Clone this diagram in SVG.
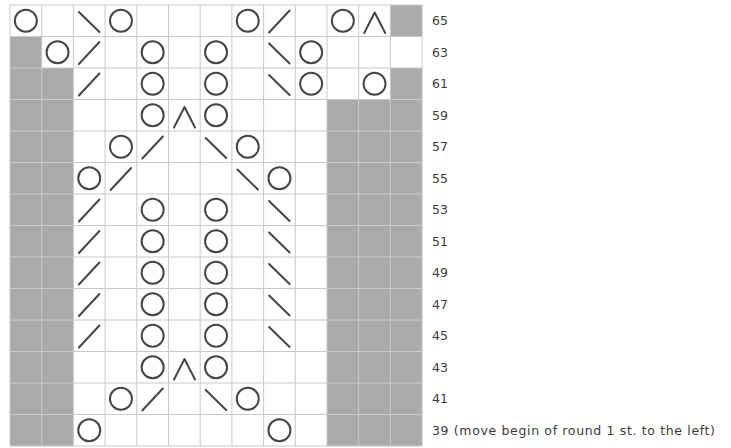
<svg xmlns="http://www.w3.org/2000/svg" xmlns:xlink="http://www.w3.org/1999/xlink" width="731" height="448" viewBox="0 0 731 448">
<style>
.bg{fill:#ffffff}
.gray{fill:#aaaaad}
.grid line{stroke:#c9c9cd;stroke-width:1}
.sym{fill:none;stroke:#464646;stroke-width:2;stroke-linecap:round;stroke-linejoin:round}
.lbl{font-family:"DejaVu Sans",sans-serif;font-size:12.5px;fill:#3c3c3c}
</style>
<defs>
<circle id="o" class="sym" cx="15.85" cy="15.75" r="11"/>
<line id="bs" class="sym" x1="5.5" y1="7" x2="26" y2="27"/>
<line id="fs" class="sym" x1="5.5" y1="27.5" x2="26" y2="5.5"/>
<polyline id="dec" class="sym" points="5.5,28 16,7.5 26.5,28"/>
</defs>
<rect class="bg" x="0" y="0" width="731" height="448"/>
<g id="shading">
<rect class="gray" x="390.4" y="5" width="31.7" height="31.5"/>
<rect class="gray" x="10" y="36.5" width="31.7" height="31.5"/>
<rect class="gray" x="10" y="68" width="63.4" height="31.5"/>
<rect class="gray" x="390.4" y="68" width="31.7" height="31.5"/>
<rect class="gray" x="10" y="99.5" width="63.4" height="346.5"/>
<rect class="gray" x="327" y="99.5" width="95.1" height="346.5"/>
</g>
<g id="grid" class="grid">
<line x1="10" y1="5" x2="10" y2="446"/>
<line x1="41.7" y1="5" x2="41.7" y2="446"/>
<line x1="73.4" y1="5" x2="73.4" y2="446"/>
<line x1="105.1" y1="5" x2="105.1" y2="446"/>
<line x1="136.8" y1="5" x2="136.8" y2="446"/>
<line x1="168.5" y1="5" x2="168.5" y2="446"/>
<line x1="200.2" y1="5" x2="200.2" y2="446"/>
<line x1="231.9" y1="5" x2="231.9" y2="446"/>
<line x1="263.6" y1="5" x2="263.6" y2="446"/>
<line x1="295.3" y1="5" x2="295.3" y2="446"/>
<line x1="327" y1="5" x2="327" y2="446"/>
<line x1="358.7" y1="5" x2="358.7" y2="446"/>
<line x1="390.4" y1="5" x2="390.4" y2="446"/>
<line x1="422.1" y1="5" x2="422.1" y2="446"/>
<line x1="10" y1="5" x2="422.1" y2="5"/>
<line x1="10" y1="36.5" x2="422.1" y2="36.5"/>
<line x1="10" y1="68" x2="422.1" y2="68"/>
<line x1="10" y1="99.5" x2="422.1" y2="99.5"/>
<line x1="10" y1="131" x2="422.1" y2="131"/>
<line x1="10" y1="162.5" x2="422.1" y2="162.5"/>
<line x1="10" y1="194" x2="422.1" y2="194"/>
<line x1="10" y1="225.5" x2="422.1" y2="225.5"/>
<line x1="10" y1="257" x2="422.1" y2="257"/>
<line x1="10" y1="288.5" x2="422.1" y2="288.5"/>
<line x1="10" y1="320" x2="422.1" y2="320"/>
<line x1="10" y1="351.5" x2="422.1" y2="351.5"/>
<line x1="10" y1="383" x2="422.1" y2="383"/>
<line x1="10" y1="414.5" x2="422.1" y2="414.5"/>
<line x1="10" y1="446" x2="422.1" y2="446"/>
</g>
<g id="row65">
<use href="#o" x="10" y="5"/><use href="#bs" x="73.4" y="5"/><use href="#o" x="105.1" y="5"/><use href="#o" x="231.9" y="5"/><use href="#fs" x="263.6" y="5"/><use href="#o" x="327" y="5"/><use href="#dec" x="358.7" y="5"/>
</g>
<g id="row63">
<use href="#o" x="41.7" y="36.5"/><use href="#fs" x="73.4" y="36.5"/><use href="#o" x="136.8" y="36.5"/><use href="#o" x="200.2" y="36.5"/><use href="#bs" x="263.6" y="36.5"/><use href="#o" x="295.3" y="36.5"/>
</g>
<g id="row61">
<use href="#fs" x="73.4" y="68"/><use href="#o" x="136.8" y="68"/><use href="#o" x="200.2" y="68"/><use href="#bs" x="263.6" y="68"/><use href="#o" x="295.3" y="68"/><use href="#o" x="358.7" y="68"/>
</g>
<g id="row59">
<use href="#o" x="136.8" y="99.5"/><use href="#dec" x="168.5" y="99.5"/><use href="#o" x="200.2" y="99.5"/>
</g>
<g id="row57">
<use href="#o" x="105.1" y="131"/><use href="#fs" x="136.8" y="131"/><use href="#bs" x="200.2" y="131"/><use href="#o" x="231.9" y="131"/>
</g>
<g id="row55">
<use href="#o" x="73.4" y="162.5"/><use href="#fs" x="105.1" y="162.5"/><use href="#bs" x="231.9" y="162.5"/><use href="#o" x="263.6" y="162.5"/>
</g>
<g id="row53">
<use href="#fs" x="73.4" y="194"/><use href="#o" x="136.8" y="194"/><use href="#o" x="200.2" y="194"/><use href="#bs" x="263.6" y="194"/>
</g>
<g id="row51">
<use href="#fs" x="73.4" y="225.5"/><use href="#o" x="136.8" y="225.5"/><use href="#o" x="200.2" y="225.5"/><use href="#bs" x="263.6" y="225.5"/>
</g>
<g id="row49">
<use href="#fs" x="73.4" y="257"/><use href="#o" x="136.8" y="257"/><use href="#o" x="200.2" y="257"/><use href="#bs" x="263.6" y="257"/>
</g>
<g id="row47">
<use href="#fs" x="73.4" y="288.5"/><use href="#o" x="136.8" y="288.5"/><use href="#o" x="200.2" y="288.5"/><use href="#bs" x="263.6" y="288.5"/>
</g>
<g id="row45">
<use href="#fs" x="73.4" y="320"/><use href="#o" x="136.8" y="320"/><use href="#o" x="200.2" y="320"/><use href="#bs" x="263.6" y="320"/>
</g>
<g id="row43">
<use href="#o" x="136.8" y="351.5"/><use href="#dec" x="168.5" y="351.5"/><use href="#o" x="200.2" y="351.5"/>
</g>
<g id="row41">
<use href="#o" x="105.1" y="383"/><use href="#fs" x="136.8" y="383"/><use href="#bs" x="200.2" y="383"/><use href="#o" x="231.9" y="383"/>
</g>
<g id="row39">
<use href="#o" x="73.4" y="414.5"/><use href="#o" x="263.6" y="414.5"/>
</g>
<g id="labels" class="lbl">
<text x="432" y="25">65</text>
<text x="432" y="56.5">63</text>
<text x="432" y="88">61</text>
<text x="432" y="119.5">59</text>
<text x="432" y="151">57</text>
<text x="432" y="182.5">55</text>
<text x="432" y="214">53</text>
<text x="432" y="245.5">51</text>
<text x="432" y="277">49</text>
<text x="432" y="308.5">47</text>
<text x="432" y="340">45</text>
<text x="432" y="371.5">43</text>
<text x="432" y="403">41</text>
<text x="432" y="434.5" textLength="283" lengthAdjust="spacing">39 (move begin of round 1 st. to the left)</text>
</g>
</svg>
